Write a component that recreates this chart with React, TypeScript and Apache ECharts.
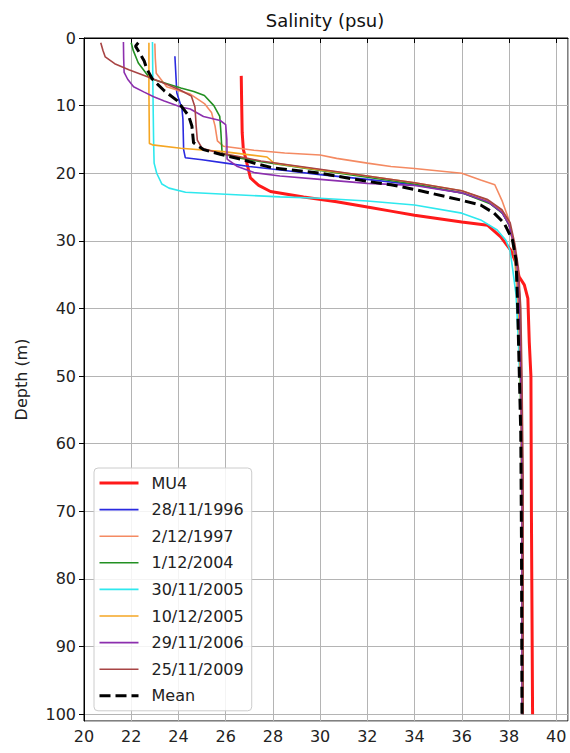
import React, { useEffect, useRef } from "react";
import * as echarts from "echarts";

// [salinity (psu), depth (m)]
const mu4: number[][] = [[26.66,5.6],[26.68,10],[26.7,14],[26.75,16.5],[26.85,17.8],[27.05,20.7],[27.4,21.8],[27.9,22.7],[29.3,23.5],[30.7,24.2],[32,25.0],[33,25.6],[34,26.2],[36,27.2],[37.1,27.7],[37.65,29.4],[38.08,31.4],[38.3,33.3],[38.43,35.3],[38.65,36.5],[38.8,38.5],[38.86,45],[38.93,50],[38.95,70],[39.0,100]];
const d19961128: number[][] = [[23.85,2.7],[23.9,6],[23.93,8.1],[24.15,10.5],[24.19,12],[24.22,16.5],[24.29,17.7],[25.0,18.0],[26.0,18.5],[27.0,19.0],[28.5,19.6],[30,20.2],[32,20.9],[34,21.7],[36,22.9],[37.1,24.2],[37.7,25.8],[38.0,27.5],[38.2,30.5],[38.35,33.5],[38.45,38],[38.5,45],[38.55,55],[38.58,70],[38.6,85],[38.6,100]];
const d19971202: number[][] = [[23.0,0.8],[23.02,3],[23.06,5.2],[23.5,7.2],[24.5,8.3],[25.1,9.7],[25.4,11],[25.55,13],[25.65,15.2],[25.9,16.0],[27.2,16.6],[28.5,17.0],[30,17.3],[30.7,17.8],[32,18.5],[33,19],[34,19.3],[36,20],[36.8,21],[37.4,21.7],[37.7,24],[38.0,26.9],[38.15,30],[38.25,33],[38.35,38],[38.45,45],[38.5,55],[38.55,70],[38.55,85],[38.55,100]];
const d20041201: number[][] = [[22.0,0.7],[22.08,1.8],[22.3,3.7],[22.8,6.0],[24.1,7.4],[24.65,7.9],[25.1,8.5],[25.5,10],[25.75,11.6],[25.8,14],[25.85,17.1],[26.5,17.7],[27.5,18.3],[30,19.6],[32,20.6],[34,21.6],[36,22.9],[37.2,24.5],[37.75,26],[38.05,28],[38.2,31],[38.35,35],[38.45,40],[38.5,50],[38.55,65],[38.6,80],[38.6,100]];
const d20051130: number[][] = [[22.9,0.6],[22.92,8],[22.95,15.6],[22.97,18.5],[23.08,20],[23.3,21.6],[23.6,22.2],[24.3,22.8],[26,23.1],[28.3,23.5],[30,23.7],[32,24.1],[34,24.7],[36,25.9],[36.8,26.9],[37.5,28.4],[37.87,29.9],[38.05,31.5],[38.15,34],[38.3,38],[38.4,45],[38.5,55],[38.55,70],[38.55,85],[38.55,100]];
const d20051210: number[][] = [[22.75,0.7],[22.75,8],[22.77,15.6],[22.9,15.8],[24.1,16.3],[25.9,16.8],[27.75,17.6],[28.05,18.5],[30,19.5],[32,20.4],[34,21.4],[36,22.6],[37.1,24],[37.7,25.6],[38.0,27.5],[38.15,30],[38.3,33],[38.4,38],[38.45,45],[38.5,55],[38.55,70],[38.55,85],[38.55,100]];
const d20061129: number[][] = [[21.67,0.6],[21.68,3],[21.7,5.1],[21.85,6.1],[22.1,7.2],[22.55,8.0],[22.95,8.7],[23.4,9.3],[24.1,10.2],[24.5,10.5],[25.06,11.6],[25.77,12.2],[26.0,12.8],[26.05,15],[26.06,17.9],[26.5,19.0],[27.2,19.9],[28.3,20.4],[30,20.9],[32,21.5],[34,21.8],[36,22.9],[37.1,24.2],[37.7,25.8],[38.0,27.6],[38.2,30.5],[38.35,34],[38.45,40],[38.5,50],[38.55,65],[38.55,80],[38.55,100]];
const d20091125: number[][] = [[20.71,0.7],[20.8,1.8],[20.9,2.8],[21.3,3.8],[21.9,4.7],[22.66,5.7],[23.4,6.7],[24.07,7.7],[24.55,8.6],[24.7,10.2],[24.75,13],[24.8,15.1],[25.0,16.3],[25.6,16.9],[26.5,17.5],[27.5,18.2],[30,19.4],[32,20.4],[34,21.4],[36,22.6],[37.1,23.9],[37.7,25.4],[38.05,27.3],[38.25,30.5],[38.4,34],[38.5,40],[38.55,50],[38.6,65],[38.6,80],[38.6,100]];
const meanProfile: number[][] = [[22.3,0.7],[22.18,1.2],[22.35,2.2],[22.55,3.4],[22.65,4.5],[22.9,6.1],[23.4,7.8],[23.96,9.3],[24.17,10.3],[24.43,11.5],[24.57,13],[24.64,15.5],[25.06,16.5],[25.77,17.2],[26.62,17.9],[27.3,18.6],[28,19.2],[30,20.0],[32,21.2],[33,21.7],[34,22.4],[36,24],[36.8,24.7],[37.37,25.9],[37.8,27.4],[38.15,29.9],[38.3,32.8],[38.36,38.8],[38.43,48.6],[38.5,58.5],[38.53,75],[38.55,100]];

const seriesNames = ["MU4","28/11/1996","2/12/1997","1/12/2004","30/11/2005","10/12/2005","29/11/2006","25/11/2009","Mean"];
const seriesData = [mu4,d19961128,d19971202,d20041201,d20051130,d20051210,d20061129,d20091125,meanProfile];
const seriesColors = ["#ff1a1a","#2a2ae0","#f48a62","#229022","#2ee8ee","#f5a623","#8c2fae","#a84444","#000000"];
const seriesWidths = [3,1.6,1.6,1.6,1.6,1.6,1.6,1.6,3];

const FONT = "DejaVu Sans";

export default function App() {
  const ref = useRef<HTMLDivElement>(null);
  useEffect(() => {
    if (!ref.current) return;
    const chart = echarts.init(ref.current, undefined, { renderer: "svg" });
    chart.setOption({
      animation: false,
      backgroundColor: "#ffffff",
      title: {
        text: "Salinity (psu)",
        left: 320,
        textAlign: "center",
        top: 6,
        textStyle: { fontFamily: FONT, fontSize: 18, fontWeight: "normal", color: "#111" },
      },
      grid: {
        left: 84, top: 38, right: 2, bottom: 32,
        show: true, borderColor: "#000", borderWidth: 1, backgroundColor: "transparent",
      },
      legend: {
        orient: "vertical",
        left: 94,
        top: 468,
        data: seriesNames,
        itemWidth: 39,
        itemHeight: 16,
        itemGap: 10.6,
        padding: [7, 8, 7, 4],
        borderColor: "#cccccc",
        borderWidth: 1,
        borderRadius: 4,
        backgroundColor: "rgba(255,255,255,0.85)",
        selectedMode: false,
        itemStyle: { opacity: 0, borderWidth: 0 },
        lineStyle: { width: "inherit", type: "inherit", color: "inherit" },
        textStyle: { fontFamily: FONT, fontSize: 16, color: "#222", lineHeight: 16, padding: [0, 0, 0, 8] },
      },
      xAxis: {
        type: "value",
        min: 20,
        max: 40.5,
        interval: 2,
        axisLine: { show: true, lineStyle: { color: "#000", width: 1 } },
        axisTick: { show: true, length: 5, lineStyle: { color: "#000" } },
        axisLabel: { fontFamily: FONT, fontSize: 16, color: "#222", margin: 7, showMaxLabel: false },
        splitLine: { show: true, lineStyle: { color: "#b4b4b4", width: 1 } },
      },
      yAxis: {
        type: "value",
        inverse: true,
        min: 0,
        max: 101,
        interval: 10,
        name: "Depth (m)",
        nameLocation: "middle",
        nameRotate: 90,
        nameGap: 55,
        nameTextStyle: { fontFamily: FONT, fontSize: 16, color: "#222" },
        axisLine: { show: true, lineStyle: { color: "#000", width: 1 } },
        axisTick: { show: true, length: 5, lineStyle: { color: "#000" } },
        axisLabel: { fontFamily: FONT, fontSize: 16, color: "#222", margin: 8, showMaxLabel: false },
        splitLine: { show: true, lineStyle: { color: "#b4b4b4", width: 1 } },
      },
      series: seriesNames.map((name, i) => ({
        name,
        type: "line",
        data: seriesData[i],
        symbol: "none",
        showSymbol: false,
        z: i === seriesNames.length - 1 ? 5 : 2,
        itemStyle: { color: seriesColors[i] },
        lineStyle: {
          color: seriesColors[i],
          width: seriesWidths[i],
          type: name === "Mean" ? [11, 5] : "solid",
        },
      })),
    });
    return () => chart.dispose();
  }, []);
  return <div ref={ref} style={{ width: 570, height: 753, position: "absolute", left: 0, top: 0 }} />;
}
